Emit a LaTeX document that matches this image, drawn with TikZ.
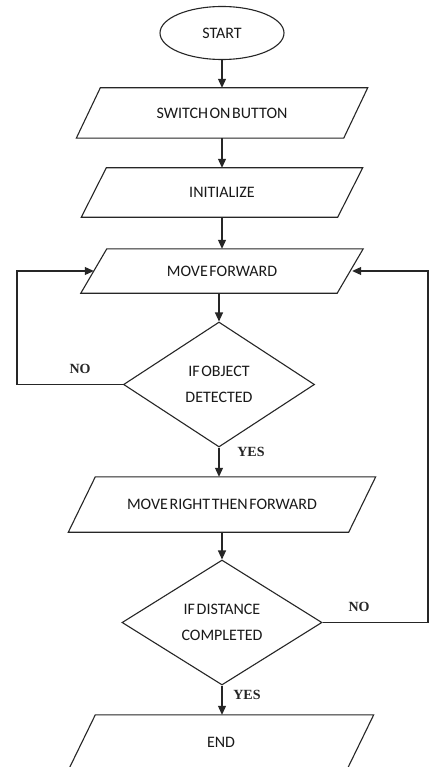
\documentclass[tikz,border=0pt]{standalone}
\usepackage{fontspec}
\setmainfont{Carlito}[WordSpace={0.45}]
\newfontfamily\labfont{Liberation Serif}
\usetikzlibrary{shapes.geometric,arrows.meta,calc}
\tikzset{
  line/.style={draw=black!85, line width=1.1pt},
  boxtext/.style={font=\fontsize{16}{26}\selectfont, text=black!90, inner sep=0pt, align=center},
  flow/.style={line, -{Triangle[length=9pt,width=8pt]}},
  lbl/.style={font=\labfont\bfseries\fontsize{14}{16}\selectfont, text=black!85, inner sep=0pt},
  dec/.style={diamond, line, boxtext, inner sep=0pt},
  term/.style={ellipse, line, boxtext},
}
% name, x, y, width, height, slant, text
\newcommand\parabox[7]{%
  \node[boxtext, minimum width=#4pt, minimum height=#5pt] (#1) at (#2,#3) {#7};
  \draw[line] ([xshift=#6pt]#1.north west) -- (#1.north east) -- ([xshift=-#6pt]#1.south east) -- (#1.south west) -- cycle;
}
\begin{document}
\begin{tikzpicture}[x=1pt,y=-1pt]
  \useasboundingbox (0,0) rectangle (429,767);
  \fill[white] (0,0) rectangle (429,767);

  \node[term, minimum width=124pt, minimum height=53pt] (start) at (222,33) {START};
  \parabox{sw}{222}{113}{291}{50}{24}{SWITCH ON BUTTON}
  \parabox{init}{222}{192.5}{281}{49}{25}{INITIALIZE}
  \parabox{mf}{222}{271}{282}{44}{26}{MOVE FORWARD}
  \node[dec, minimum width=191pt, minimum height=125pt] (d1) at (219,384.5) {IF OBJECT\\DETECTED};
  \parabox{mr}{222}{504.5}{307}{55}{27}{MOVE RIGHT THEN FORWARD}
  \node[dec, minimum width=200pt, minimum height=125pt] (d2) at (222,622.5) {IF DISTANCE\\COMPLETED};
  \parabox{fin}{221}{742.5}{305}{55}{27}{END}

  \coordinate (lcorner) at (17,384.5);
  \coordinate (rcorner) at (428,622.5);

  \draw[flow] (start.south) -- (sw.north);
  \draw[flow] (sw.south) -- (init.north);
  \draw[flow] (init.south) -- (mf.north);
  \draw[flow] (mf.south -| d1.north) -- (d1.north);
  \draw[flow] (d1.south) -- (d1.south |- mr.north);
  \draw[flow] (mr.south -| d2.north) -- (d2.north);
  \draw[flow] (d2.south) -- (d2.south |- fin.north);

  \draw[flow] (d1.west) -- (lcorner) |- ([xshift=13pt]mf.west);
  \draw[flow] (d2.east) -- (rcorner) |- ([xshift=-11pt]mf.east);

  \node[lbl] (no1) at (80,369) {NO};
  \node[lbl] (yes1) at (251,452) {YES};
  \node[lbl] (no2) at (359,607) {NO};
  \node[lbl] (yes2) at (247,695) {YES};
\end{tikzpicture}
\end{document}
